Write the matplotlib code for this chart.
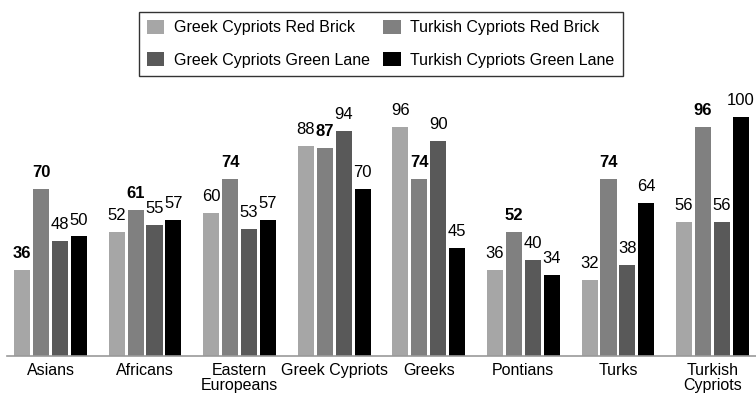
import matplotlib.pyplot as plt
import numpy as np

plt.rcParams['font.family'] = ['Liberation Sans', 'DejaVu Sans']

groups = ["Asians", "Africans", "Eastern\nEuropeans", "Greek Cypriots",
          "Greeks", "Pontians", "Turks", "Turkish\nCypriots"]
series = ["Greek Cypriots Red Brick", "Turkish Cypriots Red Brick",
          "Greek Cypriots Green Lane", "Turkish Cypriots Green Lane"]
gc_red_brick = [36, 52, 60, 88, 96, 36, 32, 56]
tc_red_brick = [70, 61, 74, 87, 74, 52, 74, 96]
gc_green_lane = [48, 55, 53, 94, 90, 40, 38, 56]
tc_green_lane = [50, 57, 57, 70, 45, 34, 64, 100]
# which value labels are printed in bold
bold_flags = [
    [True, False, False, False, False, False, False, False],
    [True] * 8,
    [False] * 8,
    [False] * 8,
]

values = [gc_red_brick, tc_red_brick, gc_green_lane, tc_green_lane]
colors = ["#a6a6a6", "#808080", "#595959", "#000000"]

fig = plt.figure(figsize=(7.56, 3.97), dpi=100)
ax = fig.add_axes([7 / 756, 41 / 397, 749 / 756, 251 / 397])

x = np.arange(len(groups))
width = 0.17
pitch = 0.2
handles = []
for i, (vals, col, name) in enumerate(zip(values, colors, series)):
    pos = x + (i - 1.5) * pitch
    handles.append(ax.bar(pos, vals, width, color=col, label=name))
    for p, v, b in zip(pos, vals, bold_flags[i]):
        ax.annotate(str(v), (p, v), xytext=(0, 8.6), textcoords="offset points",
                    ha="center", va="baseline", fontsize=12,
                    fontweight="bold" if b else "normal")

ax.set_xlim(-0.46, 7.46)
ax.set_ylim(0, 105)
ax.set_xticks(x)
ax.set_xticklabels(groups, fontsize=11.5, linespacing=1.0)
ax.tick_params(axis="x", length=0, pad=5)
ax.set_yticks([])
for s in ["top", "left", "right"]:
    ax.spines[s].set_visible(False)
ax.spines["bottom"].set_color("#999999")
ax.spines["bottom"].set_linewidth(1.2)

# legend reads across rows: red brick on top, green lane below
order = [0, 2, 1, 3]
fig.legend([handles[k] for k in order], [series[k] for k in order],
           loc="center", bbox_to_anchor=(0.5035, 0.890), ncol=2, fontsize=11.5,
           frameon=True, fancybox=False, edgecolor="#333333", framealpha=1,
           handlelength=1.1, handleheight=1.0, handletextpad=0.6,
           columnspacing=0.85, labelspacing=1.05, borderpad=0.5)

fig.savefig("out.png", dpi=100)
